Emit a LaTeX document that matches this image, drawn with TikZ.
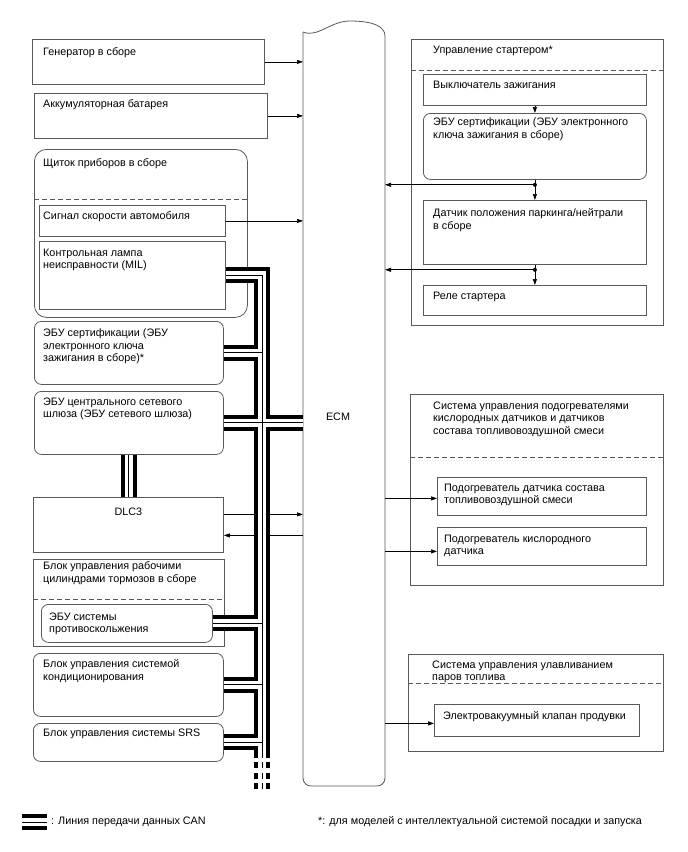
\documentclass[tikz,border=0pt]{standalone}
\usepackage{fontspec}
\setmainfont{Liberation Sans}
\usetikzlibrary{arrows.meta}

\tikzset{
  box/.style={draw=black!65, line width=0.8pt, anchor=north west, inner sep=0pt},
  rbox/.style={box, rounded corners=7pt},
  lbl/.style={anchor=north west, inner sep=0pt, align=left, font=\fontsize{10.8}{12.6}\selectfont},
  sep/.style={draw=black!65, line width=0.8pt, dash pattern=on 5pt off 3pt},
  arr/.style={-{Triangle[length=6pt,width=4pt]}, line width=0.7pt},
}

\begin{document}
\begin{tikzpicture}[x=1pt, y=-1pt]
\useasboundingbox (0,0) rectangle (688,852);

% --- ECM body ---
\draw[draw=black!65, line width=0.8pt] (303,32) .. controls (318,38) and (330,21) .. (350,21)
  .. controls (372,21) and (385,26) .. (385,36) [rounded corners=8pt] -- (385,786) -- (303,786) -- (303,32);
\node[lbl, anchor=center] (ecmT) at (338,417) {ECM};
\coordinate (ecmL) at (303,0);
\coordinate (ecmR) at (385,0);
\coordinate (trunk) at (262,0);

% --- Left column ---
\node[box, minimum width=232pt, minimum height=45pt] (gen) at (32,39) {};
\node[lbl] (genT) at ([shift={(11,8.5)}]gen.north west) {Генератор в сборе};

\node[box, minimum width=233pt, minimum height=45pt] (bat) at (34,93) {};
\node[lbl] (batT) at ([shift={(9,6.5)}]bat.north west) {Аккумуляторная батарея};

\node[box, rounded corners=12pt, minimum width=213pt, minimum height=168pt] (cl) at (34,149) {};
\node[lbl] (clT) at ([shift={(9,9.5)}]cl.north west) {Щиток приборов в сборе};
\draw[sep] ([yshift=-50pt]cl.north west) -- ([yshift=-50pt]cl.north east);

\node[box, minimum width=186pt, minimum height=31pt] (spd) at (39,205) {};
\node[lbl] (spdT) at ([shift={(4,6.5)}]spd.north west) {Сигнал скорости автомобиля};

\node[box, minimum width=186pt, minimum height=68pt] (mil) at (39,241) {};
\node[lbl] (milT) at ([shift={(4,7.5)}]mil.north west) {Контрольная лампа\\неисправности (MIL)};

\node[rbox, minimum width=189pt, minimum height=63pt] (certL) at (34,321) {};
\node[lbl] (certLT) at ([shift={(9,7.5)}]certL.north west) {ЭБУ сертификации (ЭБУ\\электронного ключа\\зажигания в сборе)*};

\node[rbox, minimum width=189pt, minimum height=63pt] (gw) at (34,391) {};
\node[lbl] (gwT) at ([shift={(9,6.5)}]gw.north west) {ЭБУ центрального сетевого\\шлюза (ЭБУ сетевого шлюза)};

\node[box, minimum width=190pt, minimum height=55pt] (dlc) at (33,497) {};
\node[lbl, anchor=north] (dlcT) at ([yshift=-10.5pt]dlc.north) {DLC3};

\node[box, minimum width=191pt, minimum height=87pt] (brk) at (33,559) {};
\node[lbl] (brkT) at ([shift={(10,2.5)}]brk.north west) {Блок управления рабочими\\цилиндрами тормозов в сборе};
\draw[sep] ([yshift=-40pt]brk.north west) -- ([yshift=-40pt]brk.north east);

\node[rbox, minimum width=171pt, minimum height=38pt] (abs) at (41,604) {};
\node[lbl] (absT) at ([shift={(8,8.5)}]abs.north west) {ЭБУ системы\\противоскольжения};

\node[rbox, minimum width=190pt, minimum height=63pt] (ac) at (33,653) {};
\node[lbl] (acT) at ([shift={(10,6.5)}]ac.north west) {Блок управления системой\\кондиционирования};

\node[rbox, minimum width=190pt, minimum height=38pt] (srs) at (33,723) {};
\node[lbl] (srsT) at ([shift={(10,5.5)}]srs.north west) {Блок управления системы SRS};

% --- Starter control ---
\node[box, minimum width=252pt, minimum height=286pt] (st) at (411,39) {};
\node[lbl] (stT) at ([shift={(22,6.5)}]st.north west) {Управление стартером*};
\draw[sep] ([yshift=-31pt]st.north west) -- ([yshift=-31pt]st.north east);

\node[box, minimum width=223pt, minimum height=31pt] (ign) at (423,74) {};
\node[lbl] (ignT) at ([shift={(10,6.5)}]ign.north west) {Выключатель зажигания};

\node[rbox, minimum width=223pt, minimum height=66pt] (certR) at (423,113) {};
\node[lbl] (certRT) at ([shift={(10,4.5)}]certR.north west) {ЭБУ сертификации (ЭБУ электронного\\ключа зажигания в сборе)};

\node[box, minimum width=223pt, minimum height=64pt] (park) at (423,200) {};
\node[lbl] (parkT) at ([shift={(10,8.5)}]park.north west) {Датчик положения паркинга/нейтрали\\в сборе};

\node[box, minimum width=223pt, minimum height=30pt] (relay) at (423,285) {};
\node[lbl] (relayT) at ([shift={(10,6.5)}]relay.north west) {Реле стартера};

% --- Oxygen / A/F heaters ---
\node[box, minimum width=253pt, minimum height=191pt] (o2s) at (410,394) {};
\node[lbl] (o2sT) at ([shift={(23,7.5)}]o2s.north west) {Система управления подогревателями\\кислородных датчиков и датчиков\\состава топливовоздушной смеси};
\draw[sep] ([yshift=-63pt]o2s.north west) -- ([yshift=-63pt]o2s.north east);

\node[box, minimum width=209pt, minimum height=38pt] (afh) at (437,477) {};
\node[lbl] (afhT) at ([shift={(7,6.5)}]afh.north west) {Подогреватель датчика состава\\топливовоздушной смеси};

\node[box, minimum width=209pt, minimum height=38pt] (o2h) at (437,527) {};
\node[lbl] (o2hT) at ([shift={(7,7.5)}]o2h.north west) {Подогреватель кислородного\\датчика};

% --- EVAP ---
\node[box, minimum width=255pt, minimum height=97pt] (ev) at (408,654) {};
\node[lbl] (evT) at ([shift={(24,6.5)}]ev.north west) {Система управления улавливанием\\паров топлива};
\draw[sep] ([yshift=-29pt]ev.north west) -- ([yshift=-29pt]ev.north east);

\node[box, minimum width=205pt, minimum height=32pt] (vsv) at (434,704) {};
\node[lbl] (vsvT) at ([shift={(9,7.5)}]vsv.north west) {Электровакуумный клапан продувки};

% --- Signal arrows ---
\draw[arr] (gen.east) -- (gen.east -| ecmL);
\draw[arr] (bat.east) -- (bat.east -| ecmL);
\draw[arr] (spd.east) -- (spd.east -| ecmL);
\coordinate (dlcO) at ([yshift=10.5pt]dlc.east);
\coordinate (dlcI) at ([yshift=-10.5pt]dlc.east);
\draw[arr] (dlcO) -- (dlcO -| ecmL);
\draw[arr] (dlcI -| ecmL) -- (dlcI);

\draw[arr] (ign.south) -- (certR.north);
\draw[arr] (certR.south) -- (park.north);
\draw[arr] (park.south) -- (relay.north);
\coordinate (j1) at ([yshift=-5pt]certR.south);
\coordinate (j2) at ([yshift=-5pt]park.south);
\fill (j1) circle (2pt);
\fill (j2) circle (2pt);
\draw[arr] (j1) -- (j1 -| ecmR);
\draw[arr] (j2) -- (j2 -| ecmR);

\coordinate (afhI) at ([yshift=-2pt]afh.west);
\coordinate (o2hI) at ([yshift=-5pt]o2h.west);
\coordinate (vsvI) at ([yshift=-3pt]vsv.west);
\draw[arr] (afhI -| ecmR) -- (afhI);
\draw[arr] (o2hI -| ecmR) -- (o2hI);
\draw[arr] (vsvI -| ecmR) -- (vsvI);

% --- CAN bus (thick / white / thin) ---
\coordinate (busEnd) at (262,758);
\coordinate (busDash) at (262,762);
\coordinate (busTip) at (262,789);
\def\canbus{(mil.east) -- (mil.east -| trunk) -- (busEnd)
  (certL.east) -- (certL.east -| trunk)
  (gw.east) -- (gw.east -| ecmL)
  (gw.south) -- (gw.south |- dlc.north)
  (abs.east) -- (abs.east -| trunk)
  (ac.east) -- (ac.east -| trunk)
  (srs.east) -- (srs.east -| trunk)}
\foreach \w/\c in {16pt/black, 8pt/white, 1pt/black}
  \draw[line width=\w, draw=\c, line join=miter] \canbus;
\foreach \w/\c in {16pt/black, 8pt/white, 1pt/black}
  \draw[line width=\w, draw=\c, dash pattern=on 6pt off 4.5pt] (busDash) -- (busTip);

% --- Legend ---
\coordinate (legA) at (22,822);
\coordinate (legB) at (47,822);
\foreach \w/\c in {16pt/black, 8pt/white, 1pt/black}
  \draw[line width=\w, draw=\c] (legA) -- (legB);
\node[lbl, anchor=west] (legT) at (51,822) {: Линия передачи данных CAN};
\node[lbl, anchor=west] (noteT) at (318,822) {*: для моделей с интеллектуальной системой посадки и запуска};

\end{tikzpicture}
\end{document}
